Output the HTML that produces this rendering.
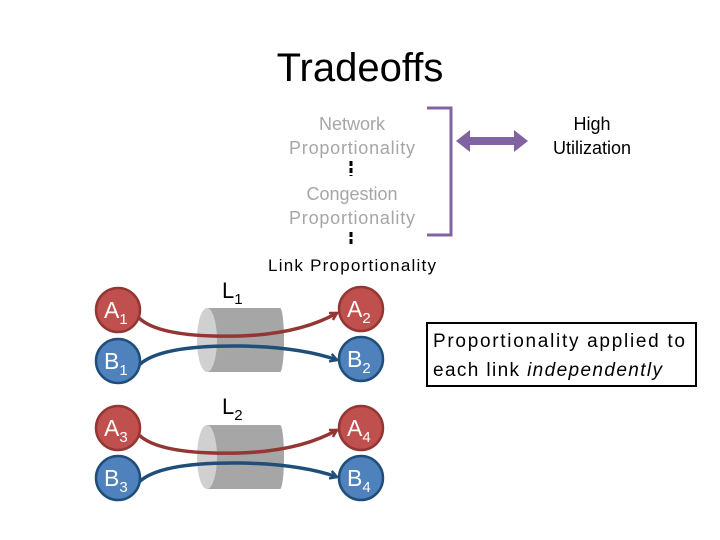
<!DOCTYPE html>
<html><head><style>body{margin:0;background:#fff}svg{display:block}text{font-family:"Liberation Sans",sans-serif}</style></head><body>
<svg width="720" height="540" viewBox="0 0 720 540">
<defs>
<marker id="ar" markerWidth="10" markerHeight="10" refX="8" refY="5" orient="auto" markerUnits="userSpaceOnUse"><path d="M1,1 L8,5 L1,9" fill="none" stroke="#943634" stroke-width="2.5"/></marker>
<marker id="ab" markerWidth="10" markerHeight="10" refX="8" refY="5" orient="auto" markerUnits="userSpaceOnUse"><path d="M1,1 L8,5 L1,9" fill="none" stroke="#1f4e79" stroke-width="2.5"/></marker>
</defs>
<text x="360" y="81" font-size="40" text-anchor="middle">Tradeoffs</text>
<g font-size="18" fill="#a6a6a6" text-anchor="middle">
<text x="352" y="130">Network</text><text x="352" y="154" textLength="126">Proportionality</text>
<text x="352" y="200">Congestion</text><text x="352" y="224" textLength="126">Proportionality</text></g>
<text x="352" y="271" font-size="17" text-anchor="middle" textLength="168">Link Proportionality</text>
<text x="592" y="130" font-size="18" text-anchor="middle">High</text>
<text x="592" y="154" font-size="18" text-anchor="middle">Utilization</text>
<g stroke="#000" stroke-width="3" stroke-dasharray="5,2"><line x1="351" y1="161" x2="351" y2="176"/><line x1="351" y1="232" x2="351" y2="246"/></g>
<path d="M427,108 H451 V235 H427" fill="none" stroke="#8064a2" stroke-width="3"/>
<path d="M456,141 L470,130 L470,137 L514,137 L514,130 L528,141 L514,152 L514,145 L470,145 L470,152 Z" fill="#8064a2"/>
<g><rect x="207" y="308" width="73" height="64" fill="#a6a6a6"/><ellipse cx="207" cy="340" rx="10" ry="32" fill="#d0d0d0"/><ellipse cx="280" cy="340" rx="4" ry="32" fill="#a6a6a6"/></g>
<g><rect x="207" y="425" width="73" height="64" fill="#a6a6a6"/><ellipse cx="207" cy="457" rx="10" ry="32" fill="#d0d0d0"/><ellipse cx="280" cy="457" rx="4" ry="32" fill="#a6a6a6"/></g>
<text x="222" y="298" font-size="22">L<tspan font-size="15" dy="6">1</tspan></text>
<text x="222" y="414" font-size="22">L<tspan font-size="15" dy="6">2</tspan></text>
<g fill="none" stroke-width="3.5">
<path d="M139,318 Q160,338 240,336 Q300,334 337,313" stroke="#943634" marker-end="url(#ar)"/>
<path d="M139,365 Q160,345 240,346 Q300,347 337,360" stroke="#1f4e79" marker-end="url(#ab)"/>
<path d="M139,435 Q160,455 240,453 Q300,451 337,430" stroke="#943634" marker-end="url(#ar)"/>
<path d="M139,482 Q160,462 240,463 Q300,464 337,477" stroke="#1f4e79" marker-end="url(#ab)"/>
</g>
<g stroke-width="2.5">
<circle cx="118" cy="310" r="22" fill="#c0504d" stroke="#943634"/><circle cx="118" cy="361" r="22" fill="#4f81bd" stroke="#1f4e79"/>
<circle cx="361" cy="309" r="22" fill="#c0504d" stroke="#943634"/><circle cx="361" cy="359" r="22" fill="#4f81bd" stroke="#1f4e79"/>
<circle cx="118" cy="428" r="22" fill="#c0504d" stroke="#943634"/><circle cx="118" cy="478" r="22" fill="#4f81bd" stroke="#1f4e79"/>
<circle cx="361" cy="428" r="22" fill="#c0504d" stroke="#943634"/><circle cx="361" cy="478" r="22" fill="#4f81bd" stroke="#1f4e79"/>
</g>
<g font-size="23" fill="#fff">
<text x="104" y="318">A<tspan font-size="15" dy="6">1</tspan></text>
<text x="104" y="369">B<tspan font-size="15" dy="6">1</tspan></text>
<text x="347" y="317">A<tspan font-size="15" dy="6">2</tspan></text>
<text x="347" y="367">B<tspan font-size="15" dy="6">2</tspan></text>
<text x="104" y="436">A<tspan font-size="15" dy="6">3</tspan></text>
<text x="104" y="486">B<tspan font-size="15" dy="6">3</tspan></text>
<text x="347" y="436">A<tspan font-size="15" dy="6">4</tspan></text>
<text x="347" y="486">B<tspan font-size="15" dy="6">4</tspan></text>
</g>
<rect x="427" y="323" width="269" height="63" fill="#fff" stroke="#000" stroke-width="2"/>
<text x="433" y="347" font-size="19" textLength="252">Proportionality applied to</text>
<text x="433" y="376" font-size="19" textLength="229">each link <tspan font-style="italic">independently</tspan></text>
</svg>
</body></html>
